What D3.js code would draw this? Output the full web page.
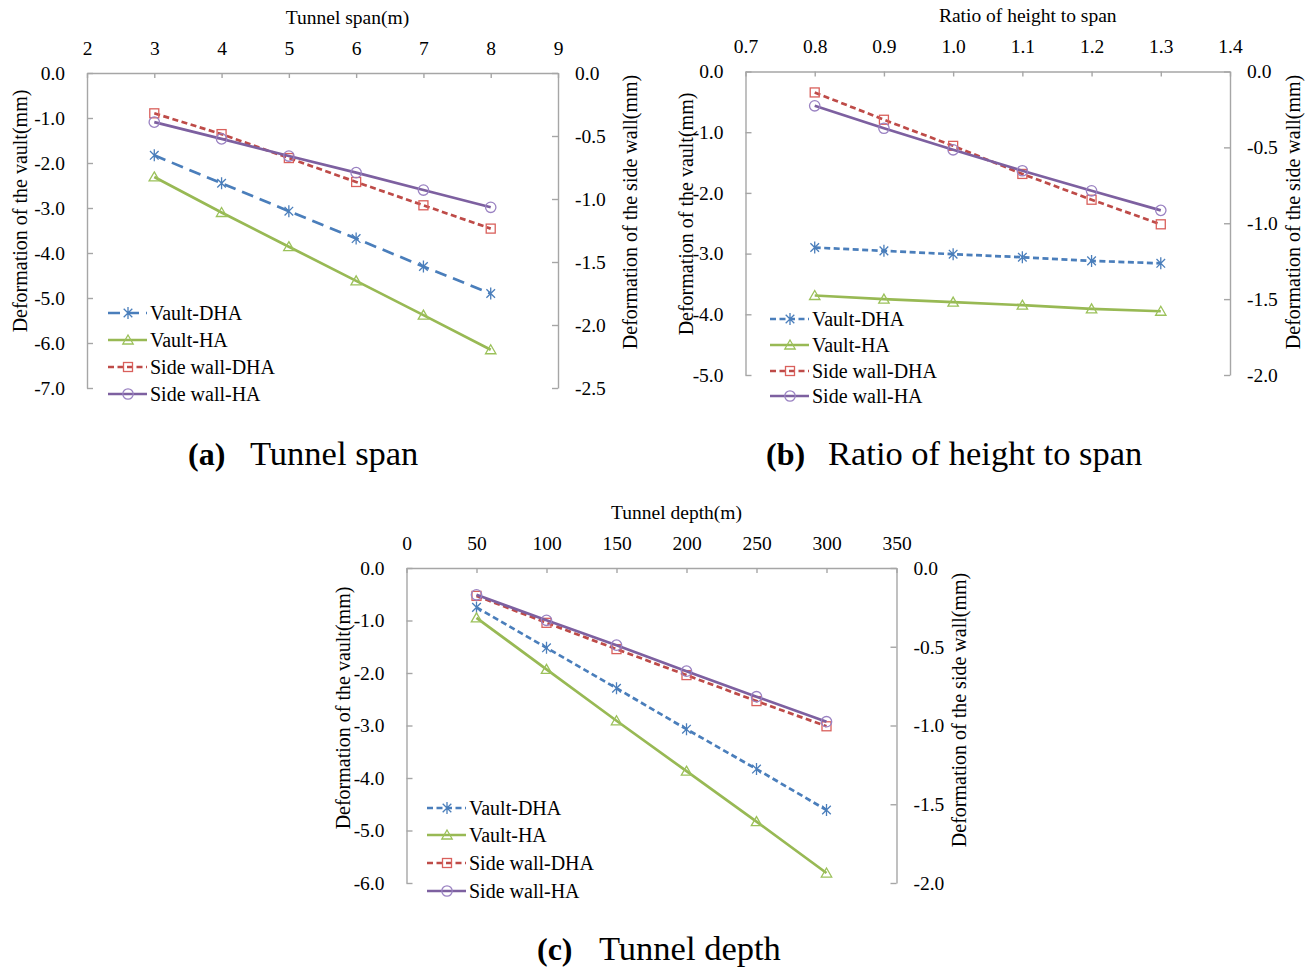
<!DOCTYPE html>
<html>
<head>
<meta charset="utf-8">
<script src="https://cdn.jsdelivr.net/npm/d3@7"></script>
<style>
  html, body { margin: 0; padding: 0; background: #ffffff; }
  svg { display: block; }
</style>
</head>
<body>
<svg id="fig" width="1314" height="969"></svg>
<script>
// ---- data -------------------------------------------------------------
const seriesNames = ["Vault-DHA", "Vault-HA", "Side wall-DHA", "Side wall-HA"];

// (a) tunnel span
const spanX = [3, 4, 5, 6, 7, 8];
const spanXTicks = [2, 3, 4, 5, 6, 7, 8, 9];
const spanVaultDHA = [-1.83, -2.45, -3.07, -3.68, -4.30, -4.90];
const spanVaultHA = [-2.31, -3.10, -3.86, -4.62, -5.38, -6.15];
const spanWallDHA = [-0.320, -0.485, -0.675, -0.865, -1.050, -1.235];
const spanWallHA = [-0.390, -0.523, -0.659, -0.791, -0.929, -1.066];

// (b) ratio of height to span
const ratioX = [0.8, 0.9, 1.0, 1.1, 1.2, 1.3];
const ratioXTicks = [0.7, 0.8, 0.9, 1.0, 1.1, 1.2, 1.3, 1.4];
const ratioVaultDHA = [-2.90, -2.955, -3.01, -3.06, -3.12, -3.16];
const ratioVaultHA = [-3.69, -3.75, -3.80, -3.85, -3.91, -3.95];
const ratioWallDHA = [-0.138, -0.318, -0.490, -0.675, -0.845, -1.007];
const ratioWallHA = [-0.226, -0.374, -0.516, -0.654, -0.786, -0.915];

// (c) tunnel depth
const depthX = [50, 100, 150, 200, 250, 300];
const depthXTicks = [0, 50, 100, 150, 200, 250, 300, 350];
const depthVaultDHA = [-0.75, -1.52, -2.29, -3.07, -3.83, -4.61];
const depthVaultHA = [-0.95, -1.93, -2.91, -3.87, -4.83, -5.81];
const depthWallDHA = [-0.177, -0.348, -0.515, -0.680, -0.845, -1.005];
const depthWallHA = [-0.170, -0.332, -0.490, -0.655, -0.817, -0.976];

// ---- styles -------------------------------------------------------------
const FONT = "'Liberation Serif', 'Times New Roman', serif";
const AXIS_GREY = "#a6a6a6";
const seriesStyle = [
  { line: "#4a7ebb", mark: "#4a7ebb", marker: "asterisk", axis: "left" },
  { line: "#98b954", mark: "#9bc15a", marker: "triangle", axis: "left" },
  { line: "#be4b48", mark: "#d9605c", marker: "square", axis: "right" },
  { line: "#7d60a0", mark: "#9a82c2", marker: "circle", axis: "right" }
];

const svg = d3.select("#fig");

function drawMarker(g, type, x, y, color) {
  const m = g.append("g").attr("transform", `translate(${x},${y})`)
    .attr("fill", "none").attr("stroke", color).attr("stroke-width", 1.3);
  if (type === "asterisk") {
    m.append("path").attr("d", "M-4.3,-4.3L4.3,4.3M-4.3,4.3L4.3,-4.3M0,-6L0,6");
  } else if (type === "triangle") {
    m.append("path").attr("d", "M0,-5L5.2,4L-5.2,4Z");
  } else if (type === "square") {
    m.append("rect").attr("x", -4.5).attr("y", -4.5).attr("width", 9).attr("height", 9);
  } else {
    m.append("circle").attr("r", 5.2);
  }
}

function drawPanel(p) {
  const g = svg.append("g");
  const x = d3.scaleLinear().domain(p.xDomain).range([p.left, p.right]);
  const yL = d3.scaleLinear().domain(p.yLeftDomain).range([p.bottom, p.top]);
  const yR = d3.scaleLinear().domain(p.yRightDomain).range([p.bottom, p.top]);

  const styleAxis = sel => {
    sel.attr("font-family", FONT).attr("font-size", 19.5);
    sel.select(".domain").attr("stroke", AXIS_GREY).attr("stroke-width", 1.4);
    sel.selectAll(".tick line").attr("stroke", AXIS_GREY).attr("stroke-width", 1.4);
    sel.selectAll(".tick text").attr("fill", "#000");
  };

  g.append("g").attr("transform", `translate(0,${p.top})`)
    .call(d3.axisTop(x).tickValues(p.xTicks).tickFormat(d3.format(p.xFormat))
      .tickSizeInner(-5).tickSizeOuter(0).tickPadding(18.5))
    .call(styleAxis);
  g.append("g").attr("transform", `translate(${p.left},0)`)
    .call(d3.axisLeft(yL).tickValues(d3.range(p.yLeftDomain[0], p.yLeftDomain[1] + 1e-9, p.yLeftStep))
      .tickFormat(d3.format(".1f")).tickSizeInner(-6).tickSizeOuter(0).tickPadding(22))
    .call(styleAxis);
  g.append("g").attr("transform", `translate(${p.right},0)`)
    .call(d3.axisRight(yR).tickValues(d3.range(p.yRightDomain[0], p.yRightDomain[1] + 1e-9, p.yRightStep))
      .tickFormat(d3.format(".1f")).tickSizeInner(-6).tickSizeOuter(0).tickPadding(17))
    .call(styleAxis);
  // d3.format uses the unicode minus; plain hyphen-minus reads as in the printed figure
  g.selectAll(".tick text").text(function () { return d3.select(this).text().replace("\u2212", "-"); });

  // axis titles
  g.append("text").attr("x", (p.left + p.right) / 2 + p.topTitleDx).attr("y", p.top - 56)
    .attr("dy", "0.35em").attr("text-anchor", "middle")
    .attr("font-family", FONT).attr("font-size", 19.5).text(p.xTitle);
  g.append("text").attr("transform", `translate(${p.leftTitleX},${p.leftTitleY}) rotate(-90)`)
    .attr("dy", "0.35em").attr("text-anchor", "middle")
    .attr("font-family", FONT).attr("font-size", 20).text("Deformation of the vault(mm)");
  g.append("text").attr("transform", `translate(${p.rightTitleX},${p.rightTitleY}) rotate(-90)`)
    .attr("dy", "0.35em").attr("text-anchor", "middle")
    .attr("font-family", FONT).attr("font-size", 20).text("Deformation of the side wall(mm)");

  // series
  p.series.forEach((vals, i) => {
    const st = seriesStyle[i];
    const y = st.axis === "left" ? yL : yR;
    const pts = p.xs.map((xv, j) => [x(xv), y(vals[j])]);
    g.append("path").attr("d", d3.line()(pts)).attr("fill", "none")
      .attr("stroke", st.line).attr("stroke-width", 2.7)
      .attr("stroke-dasharray", i === 0 ? p.vaultDash : (i === 2 ? "6,3.5" : null));
    pts.forEach(pt => drawMarker(g, st.marker, pt[0], pt[1], st.mark));
  });

  // legend
  seriesNames.forEach((name, i) => {
    const st = seriesStyle[i];
    const ly = p.legendRows[i];
    g.append("line").attr("x1", p.legendX).attr("x2", p.legendX + 39)
      .attr("y1", ly).attr("y2", ly).attr("stroke", st.line).attr("stroke-width", 2.7)
      .attr("stroke-dasharray", i === 0 ? p.vaultDash : (i === 2 ? "6,3.5" : null));
    drawMarker(g, st.marker, p.legendX + 20, ly, st.mark);
    g.append("text").attr("x", p.legendX + 42).attr("y", ly).attr("dy", "0.33em")
      .attr("font-family", FONT).attr("font-size", 20).text(name);
  });

  // caption
  const cap = g.append("text").attr("x", p.capX).attr("y", p.capY)
    .attr("font-family", FONT).attr("font-size", 34.5);
  cap.append("tspan").attr("font-weight", "bold").attr("font-size", 32).text(p.capTag);
  cap.append("tspan").attr("x", p.capX + 62).text(p.capText);
}

drawPanel({
  left: 87, right: 558, top: 73, bottom: 388,
  xDomain: [2, 9], xTicks: spanXTicks, xFormat: "d",
  yLeftDomain: [-7, 0], yLeftStep: 1, yRightDomain: [-2.5, 0], yRightStep: 0.5,
  xTitle: "Tunnel span(m)", topTitleDx: 25,
  leftTitleX: 20, leftTitleY: 211, rightTitleX: 630, rightTitleY: 212,
  xs: spanX, series: [spanVaultDHA, spanVaultHA, spanWallDHA, spanWallHA],
  vaultDash: "12,7",
  legendX: 108, legendRows: [313, 340, 367, 394],
  capX: 188, capY: 465, capTag: "(a)", capText: "Tunnel span"
});

drawPanel({
  left: 745.5, right: 1230, top: 71.5, bottom: 375,
  xDomain: [0.7, 1.4], xTicks: ratioXTicks, xFormat: ".1f",
  yLeftDomain: [-5, 0], yLeftStep: 1, yRightDomain: [-2, 0], yRightStep: 0.5,
  xTitle: "Ratio of height to span", topTitleDx: 40,
  leftTitleX: 686, leftTitleY: 214, rightTitleX: 1292.5, rightTitleY: 212,
  xs: ratioX, series: [ratioVaultDHA, ratioVaultHA, ratioWallDHA, ratioWallHA],
  vaultDash: "6,3.5",
  legendX: 770, legendRows: [319, 345, 371, 396],
  capX: 766, capY: 465, capTag: "(b)", capText: "Ratio of height to span"
});

drawPanel({
  left: 406.5, right: 896.5, top: 568, bottom: 883,
  xDomain: [0, 350], xTicks: depthXTicks, xFormat: "d",
  yLeftDomain: [-6, 0], yLeftStep: 1, yRightDomain: [-2, 0], yRightStep: 0.5,
  xTitle: "Tunnel depth(m)", topTitleDx: 25,
  leftTitleX: 343, leftTitleY: 708, rightTitleX: 959, rightTitleY: 710,
  xs: depthX, series: [depthVaultDHA, depthVaultHA, depthWallDHA, depthWallHA],
  vaultDash: "6,3.5",
  legendX: 427, legendRows: [808, 835, 863, 891],
  capX: 537, capY: 960, capTag: "(c)", capText: "Tunnel depth"
});
</script>
</body>
</html>
